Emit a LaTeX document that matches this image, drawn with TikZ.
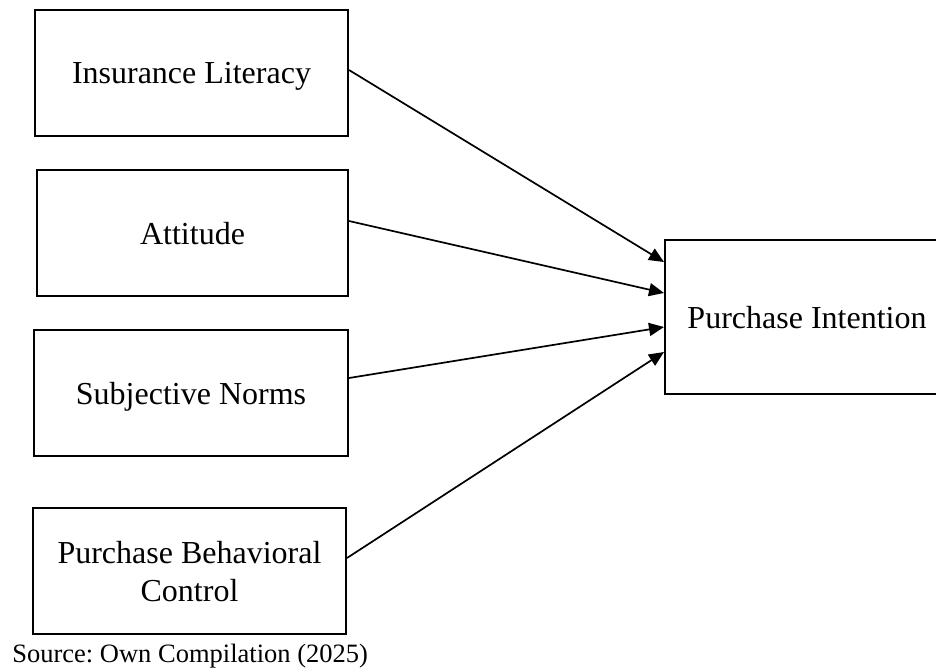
\documentclass[tikz,border=0pt]{standalone}
\usepackage{fontspec}
\setmainfont{Liberation Serif}
\usetikzlibrary{arrows.meta}
\frenchspacing
\begin{document}
\begin{tikzpicture}[x=0.5pt,y=-0.5pt,
  factor/.style={draw=black, line width=1pt, rectangle, inner sep=0pt,
    align=center, font=\fontsize{16}{19}\selectfont,
    text depth=0pt, minimum height=63pt},
  link/.style={line width=0.85pt, -{Triangle[length=7.5pt,width=6.5pt]}}]
  \useasboundingbox (0,0) rectangle (936,671);

  % predictor boxes
  \node[factor, minimum width=156.5pt] (il)  at (191.5,73)  {Insurance Literacy};
  \node[factor, minimum width=155.5pt] (att) at (192.5,233) {Attitude};
  \node[factor, minimum width=157pt]   (sn)  at (191,393)   {Subjective Norms};
  \node[factor, minimum width=156.5pt] (pbc) at (189.5,571) {Purchase Behavioral\\Control};

  % outcome box
  \node[factor, minimum width=142pt, minimum height=77pt] (pi) at (807,317) {Purchase Intention};

  % paths
  \draw[link] ([yshift=1.5pt]il.east)  -- ([yshift=27.5pt]pi.west);
  \draw[link] ([yshift=6pt]att.east)   -- ([yshift=12pt]pi.west);
  \draw[link] ([yshift=7.5pt]sn.east)  -- ([yshift=-5pt]pi.west);
  \draw[link] ([yshift=6.5pt]pbc.east) -- ([yshift=-17.5pt]pi.west);

  % source note
  \node[anchor=base west, inner sep=0pt, font=\fontsize{13.25}{16}\selectfont] (src) at (12,662)
    {Source: Own Compilation (2025)};
\end{tikzpicture}
\end{document}
